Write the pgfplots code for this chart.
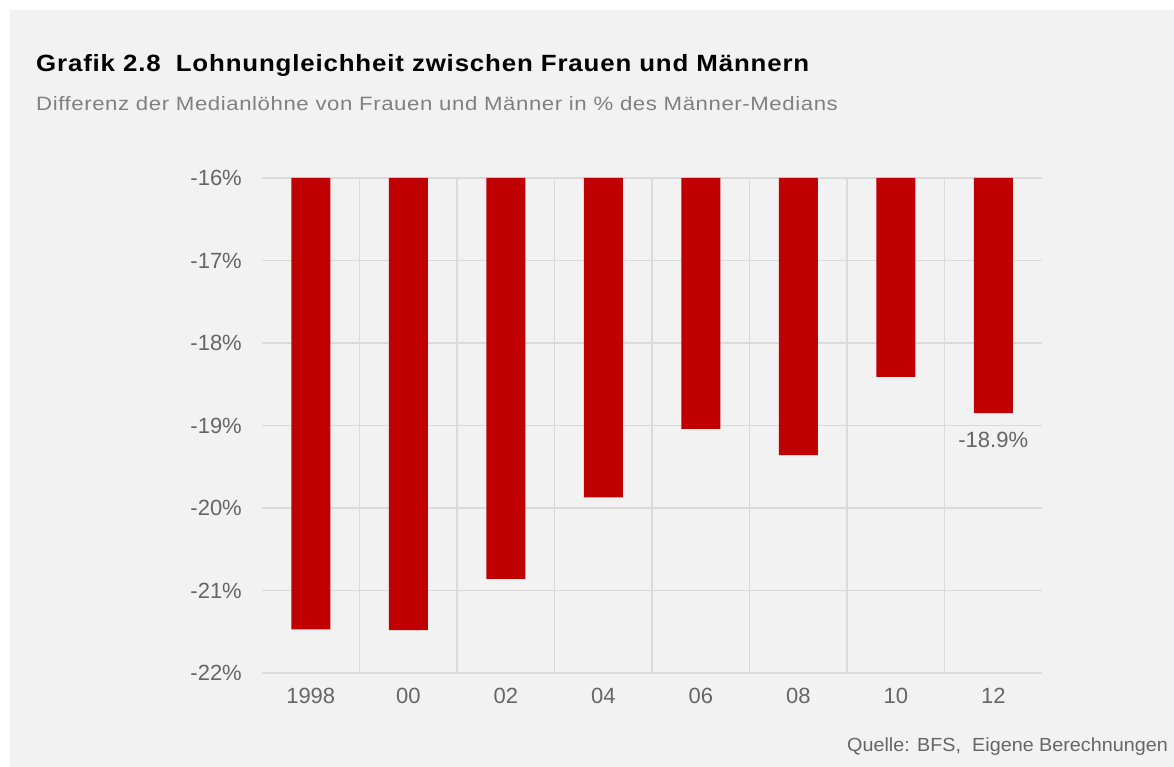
\documentclass[border=0pt]{standalone}
\usepackage{pgfplots}
\pgfplotsset{compat=1.18}
\usepackage{fontspec}
\setmainfont{Liberation Sans}
\newfontfamily\titlefont[FakeStretch=1.1,LetterSpace=3.6]{Liberation Sans}
\newfontfamily\subfont[FakeStretch=1.15,LetterSpace=3]{Liberation Sans}
\newfontfamily\srcfont[FakeStretch=1.04]{Liberation Sans}
\definecolor{bg}{HTML}{F2F2F2}
\definecolor{barred}{HTML}{C00000}
\definecolor{gridc}{HTML}{DADADA}
\definecolor{tickc}{HTML}{666666}
\definecolor{subc}{HTML}{808080}
\begin{document}
\begin{tikzpicture}
\fill[white] (0pt,0pt) rectangle (1174pt,767pt);
\fill[bg] (10pt,0pt) rectangle (1174pt,757pt);
\node[anchor=base west, inner sep=0pt, font=\titlefont\fontsize{23.5}{28}\selectfont\bfseries] at (36pt,695pt) {Grafik 2.8\hspace{0.3em} Lohnungleichheit zwischen Frauen und Männern};
\node[anchor=base west, inner sep=0pt, text=subc, font=\subfont\fontsize{19.3}{23}\selectfont] at (36pt,656pt) {Differenz der Medianlöhne von Frauen und Männer in \% des Männer-Medians};
\node[anchor=base east, inner sep=0pt, text=tickc, font=\srcfont\fontsize{19}{22}\selectfont] at (1168pt,15pt) {Quelle: BFS,\hspace{0.3em} Eigene Berechnungen};
\begin{axis}[
  at={(262pt,94pt)}, anchor=south west,
  width=780pt, height=495pt, scale only axis,
  xmin=-0.5, xmax=7.5, ymin=-22, ymax=-16,
  ytick={-22,-21,-20,-19,-18,-17,-16},
  yticklabels={-22\%,-21\%,-20\%,-19\%,-18\%,-17\%,-16\%},
  xtick={0,1,2,3,4,5,6,7},
  xticklabels={1998,00,02,04,06,08,10,12},
  minor xtick={0.5,1.5,2.5,3.5,4.5,5.5,6.5},
  ymajorgrids, xminorgrids,
  major grid style={gridc, line width=1.5pt},
  minor grid style={gridc, line width=1.5pt},
  axis line style={draw=none},
  major tick length=0pt, minor tick length=0pt,
  tick label style={text=tickc, font=\fontsize{22}{26}\selectfont},
  yticklabel style={inner sep=0pt, xshift=-20pt},
  xticklabel style={inner sep=0pt, yshift=-15pt},
  ybar, bar width=39pt,
  clip=true,
]
\addplot[fill=barred, draw=none] coordinates {
  (0,-21.47) (1,-21.48) (2,-20.86) (3,-19.87) (4,-19.04) (5,-19.36) (6,-18.41) (7,-18.85)
};
\node[anchor=north, inner sep=0pt, text=tickc, font=\fontsize{22}{26}\selectfont] at (axis cs:7,-18.85) [yshift=-19pt] {-18.9\%};
\end{axis}
\end{tikzpicture}
\end{document}
